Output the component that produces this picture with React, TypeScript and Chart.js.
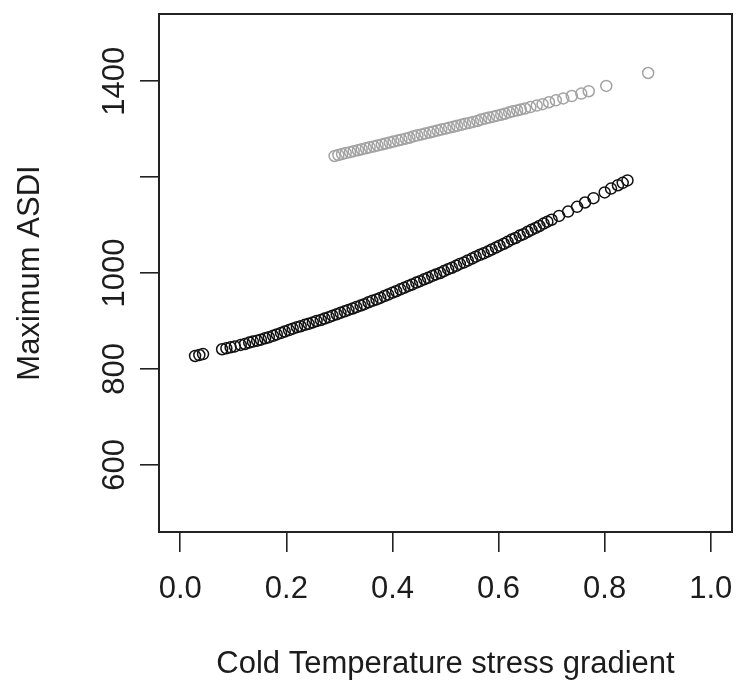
import React, { useEffect, useRef } from "react";
import { Chart, registerables } from "chart.js";

Chart.register(...registerables);

// Black series (lower curve)
const blackX = [
  0.028, 0.036, 0.043, 0.079, 0.087, 0.095, 0.103, 0.114, 0.122, 0.130,
  0.137, 0.145, 0.152, 0.160, 0.167, 0.175, 0.182, 0.190, 0.197, 0.205,
  0.212, 0.220, 0.227, 0.235, 0.242, 0.250, 0.257, 0.265, 0.272, 0.280,
  0.287, 0.295, 0.302, 0.310, 0.317, 0.325, 0.332, 0.340, 0.347, 0.355,
  0.362, 0.370, 0.377, 0.385, 0.392, 0.400, 0.407, 0.415, 0.422, 0.430,
  0.437, 0.445, 0.452, 0.460, 0.467, 0.475, 0.482, 0.490, 0.497, 0.505,
  0.512, 0.520, 0.527, 0.535, 0.542, 0.550, 0.557, 0.565, 0.572, 0.580,
  0.587, 0.595, 0.602, 0.610, 0.617, 0.625, 0.632, 0.640, 0.647, 0.655,
  0.662, 0.670, 0.677, 0.685, 0.692, 0.700, 0.714, 0.731, 0.748, 0.763,
  0.779, 0.800, 0.812, 0.825, 0.834, 0.843,
];
const blackY = [
  827, 829, 831, 841, 843, 845, 847, 850, 852, 855,
  857, 859, 861, 864, 866, 869, 872, 875, 878, 881,
  884, 887, 889, 892, 894, 897, 900, 902, 905, 908,
  911, 914, 917, 920, 923, 926, 929, 932, 935, 939,
  942, 945, 948, 952, 955, 959, 962, 966, 969, 973,
  976, 980, 983, 987, 990, 994, 997, 1000, 1004, 1008,
  1011, 1015, 1019, 1022, 1026, 1030, 1034, 1038, 1041, 1045,
  1049, 1053, 1057, 1061, 1065, 1070, 1073, 1078, 1081, 1086,
  1090, 1094, 1098, 1103, 1107, 1111, 1119, 1128, 1138, 1147,
  1156, 1168, 1176, 1183, 1188, 1193,
];

// Grey series (upper line)
const greyX = [
  0.291, 0.298, 0.305, 0.312, 0.320, 0.327, 0.335, 0.342, 0.350, 0.357,
  0.365, 0.372, 0.380, 0.387, 0.395, 0.402, 0.410, 0.417, 0.425, 0.432,
  0.440, 0.447, 0.455, 0.462, 0.470, 0.477, 0.485, 0.492, 0.500, 0.507,
  0.515, 0.522, 0.530, 0.537, 0.545, 0.552, 0.560, 0.567, 0.575, 0.582,
  0.590, 0.597, 0.605, 0.612, 0.620, 0.627, 0.635, 0.642, 0.650, 0.660,
  0.672, 0.683, 0.695, 0.708, 0.722, 0.738, 0.756, 0.770, 0.803, 0.882,
];
const greyY = [
  1244, 1246, 1248, 1250, 1252, 1254, 1256, 1258, 1260, 1262,
  1264, 1266, 1268, 1270, 1272, 1274, 1276, 1278, 1280, 1282,
  1285, 1287, 1289, 1291, 1293, 1295, 1297, 1299, 1301, 1303,
  1305, 1307, 1309, 1311, 1313, 1315, 1317, 1320, 1322, 1324,
  1326, 1328, 1330, 1332, 1335, 1337, 1339, 1341, 1343, 1346,
  1349, 1352, 1356, 1360, 1364, 1369, 1374, 1379, 1390, 1417,
];

const xTicks = [0, 0.2, 0.4, 0.6, 0.8, 1.0];
const xTickLabels = ["0.0", "0.2", "0.4", "0.6", "0.8", "1.0"];
const yTicks = [600, 800, 1000, 1200, 1400];
const yTickLabels = ["600", "800", "1000", "", "1400"];

const FONT = "'Liberation Sans', Arial, sans-serif";
const TEXT = "#1c1c1c";

export default function App() {
  const ref = useRef<HTMLCanvasElement | null>(null);

  useEffect(() => {
    document.body.style.margin = "0";
    const canvas = ref.current;
    if (!canvas) return;

    const boxPlugin = {
      id: "rbox",
      afterDraw(chart: any) {
        const { ctx, chartArea } = chart;
        ctx.save();
        ctx.strokeStyle = "#222";
        ctx.lineWidth = 2;
        ctx.strokeRect(
          chartArea.left,
          chartArea.top,
          chartArea.right - chartArea.left,
          chartArea.bottom - chartArea.top
        );
        // rotated y tick labels (R las=0 style)
        const ys = chart.scales.y;
        ctx.fillStyle = TEXT;
        ctx.font = `31px ${FONT}`;
        ctx.textAlign = "center";
        ctx.textBaseline = "middle";
        yTicks.forEach((v, i) => {
          const lbl = yTickLabels[i];
          if (!lbl) return;
          const py = ys.getPixelForValue(v);
          ctx.save();
          ctx.translate(115, py);
          ctx.rotate(-Math.PI / 2);
          ctx.fillText(lbl, 0, 0);
          ctx.restore();
        });
        ctx.restore();
      },
    };

    const chart = new Chart(canvas, {
      type: "scatter",
      data: {
        datasets: [
          {
            label: "grey",
            data: greyX.map((x, i) => ({ x, y: greyY[i] })),
            borderColor: "#a3a3a3",
            backgroundColor: "rgba(0,0,0,0)",
            pointRadius: 5.5,
            borderWidth: 1.5,
            pointStyle: "circle",
          },
          {
            label: "black",
            data: blackX.map((x, i) => ({ x, y: blackY[i] })),
            borderColor: "#111",
            backgroundColor: "rgba(0,0,0,0)",
            pointRadius: 5.5,
            borderWidth: 1.5,
            pointStyle: "circle",
          },
        ],
      },
      options: {
        responsive: false,
        animation: false,
        events: [],
        layout: { padding: { top: 14, right: 6, left: 0, bottom: 0 } },
        plugins: {
          legend: { display: false },
          tooltip: { enabled: false },
        },
        scales: {
          x: {
            type: "linear",
            min: -0.04,
            max: 1.04,
            afterBuildTicks: (s: any) => {
              s.ticks = xTicks.map((v) => ({ value: v }));
            },
            afterFit: (s: any) => {
              s.height = 161;
              s.paddingLeft = 0;
              s.paddingRight = 0;
            },
            grid: {
              drawOnChartArea: false,
              drawTicks: true,
              tickLength: 20,
              color: "#222",
              lineWidth: 1.6,
            },
            border: { display: false },
            ticks: {
              autoSkip: false,
              maxRotation: 0,
              minRotation: 0,
              padding: 19,
              color: TEXT,
              font: { family: FONT, size: 31 },
              callback: (v: any) => {
                const idx = xTicks.findIndex((t) => Math.abs(t - Number(v)) < 1e-9);
                return idx >= 0 ? xTickLabels[idx] : "";
              },
            },
            title: {
              display: true,
              text: "Cold Temperature stress gradient",
              color: TEXT,
              font: { family: FONT, size: 31 },
              padding: { top: 0, bottom: 10 },
            },
          },
          y: {
            type: "linear",
            min: 460,
            max: 1540,
            afterBuildTicks: (s: any) => {
              s.ticks = yTicks.map((v) => ({ value: v }));
            },
            afterFit: (s: any) => {
              s.width = 159;
              s.paddingTop = 0;
              s.paddingBottom = 0;
            },
            grid: {
              drawOnChartArea: false,
              drawTicks: true,
              tickLength: 19,
              color: "#222",
              lineWidth: 1.6,
            },
            border: { display: false },
            ticks: {
              display: false,
            },
            title: {
              display: true,
              text: "Maximum ASDI",
              color: TEXT,
              font: { family: FONT, size: 31 },
              padding: { top: 12, bottom: 0 },
            },
          },
        },
      },
      plugins: [boxPlugin],
    });

    return () => {
      chart.destroy();
    };
  }, []);

  return (
    <div style={{ position: "absolute", left: 0, top: 0, width: 739, height: 693, background: "#fff" }}>
      <canvas ref={ref} width={739} height={693} />
    </div>
  );
}
